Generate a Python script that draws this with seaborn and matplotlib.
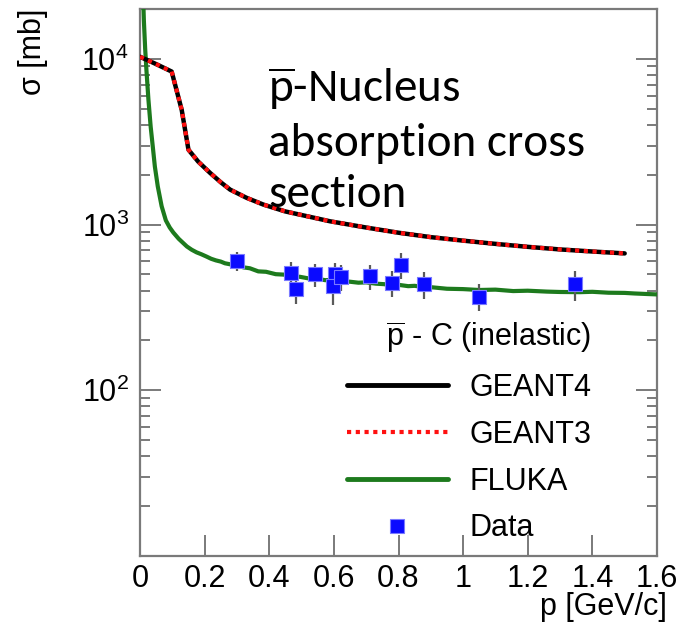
import numpy as np
import pandas as pd
import matplotlib
matplotlib.use("Agg")
import matplotlib.pyplot as plt
from matplotlib.lines import Line2D
from matplotlib.ticker import LogLocator, FixedLocator, FuncFormatter, NullFormatter
import seaborn as sns

# GEANT4 / GEANT3 antiproton-carbon inelastic cross section (mb) vs momentum (GeV/c)
geant_p = [0.0, 0.05, 0.098, 0.112, 0.129, 0.15, 0.18, 0.217, 0.25, 0.279, 0.33,
           0.382, 0.45, 0.52, 0.588, 0.7, 0.8, 0.9, 1.0, 1.1, 1.2, 1.3, 1.4, 1.5]
geant_sigma = [10300, 9300, 8385, 6600, 4930, 2830, 2400, 2050, 1800, 1625, 1450,
               1320, 1200, 1120, 1047, 960, 893, 840, 800, 765, 734, 708, 688, 670]

# FLUKA
fluka_p = [0.008, 0.012, 0.016, 0.02, 0.026, 0.033, 0.04, 0.046, 0.055, 0.067, 0.08,
           0.092, 0.103, 0.12, 0.145, 0.16, 0.175, 0.19, 0.206, 0.22, 0.235, 0.25,
           0.263, 0.275, 0.29, 0.305, 0.32, 0.34, 0.366, 0.39, 0.42, 0.445, 0.47,
           0.495, 0.52, 0.545, 0.573, 0.6, 0.62, 0.65, 0.676, 0.7, 0.73, 0.755,
           0.779, 0.8, 0.83, 0.85, 0.872, 0.9, 0.95, 1.0, 1.05, 1.1, 1.155, 1.2,
           1.26, 1.3, 1.362, 1.4, 1.45, 1.5, 1.53, 1.57, 1.6]
fluka_sigma = [30000, 17000, 11500, 8500, 5700, 3900, 2900, 2240, 1700, 1290, 1060,
               960, 896, 820, 738, 705, 680, 662, 641, 622, 608, 598, 584, 578, 570,
               566, 552, 545, 522, 519, 502, 499, 487, 484, 474, 472, 462, 463, 455,
               452, 446, 448, 440, 437, 431, 433, 425, 427, 421, 419, 410, 408, 403,
               405, 397, 399, 394, 392, 391, 393, 388, 387, 384, 381, 379]

# Measured points
data_p = [0.299, 0.466, 0.484, 0.542, 0.604, 0.596, 0.622, 0.711, 0.779, 0.808,
          0.880, 1.050, 1.345]
data_sigma = [601, 512, 410, 500, 505, 425, 484, 489, 446, 569, 436, 367, 436]
data_err = [79, 83, 80, 81, 84, 99, 84, 85, 80, 102, 82, 68, 91]

x_ticks = [0, 0.2, 0.4, 0.6, 0.8, 1.0, 1.2, 1.4, 1.6]
y_ticks = [100, 1000, 10000]

sns.set_theme(style="white")
plt.rcParams["font.family"] = ["Liberation Sans", "DejaVu Sans"]
plt.rcParams["mathtext.fontset"] = "custom"
plt.rcParams["mathtext.rm"] = "Carlito"
plt.rcParams["mathtext.sf"] = "Liberation Sans"
plt.rcParams["mathtext.it"] = "Carlito:italic"
for key in ("text.color", "axes.labelcolor", "xtick.labelcolor", "ytick.labelcolor"):
    plt.rcParams[key] = "black"

W, H, DPI = 683, 635, 100
fig = plt.figure(figsize=(W / DPI, H / DPI), dpi=DPI)
L, R, T, B = 140, 657, 9, 556
ax = fig.add_axes([L / W, 1 - B / H, (R - L) / W, (B - T) / H])

frame = "#7a7a7a"
green = "#1d7a1d"

df_g = pd.DataFrame({"p": geant_p, "sigma": geant_sigma})
df_f = pd.DataFrame({"p": fluka_p, "sigma": fluka_sigma})
df_d = pd.DataFrame({"p": data_p, "sigma": data_sigma, "err": data_err})

sns.lineplot(data=df_f, x="p", y="sigma", ax=ax, color=green, lw=3,
             sort=False, estimator=None, zorder=3)
sns.lineplot(data=df_g, x="p", y="sigma", ax=ax, color="black", lw=3.2,
             sort=False, estimator=None, zorder=4)
sns.lineplot(data=df_g, x="p", y="sigma", ax=ax, color="#ff1010", lw=3,
             sort=False, estimator=None, zorder=5, linestyle=(0, (1, 1.1)))
ax.errorbar(df_d["p"], df_d["sigma"], yerr=df_d["err"], fmt="none",
            ecolor="#5a5a5a", elinewidth=1.6, capsize=0, zorder=6)
sns.scatterplot(data=df_d, x="p", y="sigma", ax=ax, marker="s", s=95,
                color="#0a0aff", edgecolor="#7a7aff", linewidth=0.8, zorder=7)

ax.set_yscale("log")
ax.set_xlim(0, 1.6)
ax.set_ylim(10, 20000)

ax.xaxis.set_major_locator(FixedLocator(x_ticks))
ax.xaxis.set_major_formatter(FuncFormatter(lambda v, _: f"{v:g}"))
ax.yaxis.set_major_locator(FixedLocator(y_ticks))
ax.yaxis.set_major_formatter(
    FuncFormatter(lambda v, _: r"$\mathsf{10^{%d}}$" % round(np.log10(v))))
ax.yaxis.set_minor_locator(LogLocator(base=10, subs=np.arange(2, 10)))
ax.yaxis.set_minor_formatter(NullFormatter())

for s in ax.spines.values():
    s.set_color(frame)
    s.set_linewidth(1.6)

ax.tick_params(axis="x", which="major", direction="in", length=15, width=1.4,
               color=frame, labelsize=22, pad=6, top=False, bottom=True)
ax.tick_params(axis="y", which="major", direction="in", length=15, width=1.4,
               color=frame, labelsize=22, pad=8, left=True, right=True)
ax.tick_params(axis="y", which="minor", direction="in", length=7, width=1.4,
               color=frame, left=True, right=True)

ax.set_xlabel("p [GeV/c]", fontsize=22, loc="right")
ax.xaxis.set_label_coords((667 - L) / (R - L), (B - 592) / (B - T))
ax.set_ylabel("σ [mb]", fontsize=22, loc="top")
ax.yaxis.set_label_coords((48 - L) / (R - L), 1.0)

handles = [
    Line2D([], [], color="black", lw=3.5),
    Line2D([], [], color="#ff1010", lw=3, linestyle=(0, (1, 1.1))),
    Line2D([], [], color=green, lw=3.5),
    Line2D([], [], color="#0a0aff", marker="s", markersize=10, linestyle="none",
           markeredgecolor="#7a7aff", markeredgewidth=0.8),
]
leg = ax.legend(handles, ["GEANT4", "GEANT3", "FLUKA", "Data"],
                title=r"$\mathsf{\overline{p}}$ - C (inelastic)",
                title_fontsize=22, fontsize=22,
                frameon=False, loc="upper left",
                bbox_to_anchor=((347 - L) / (R - L), (B - 320) / (B - T)),
                borderaxespad=0, borderpad=0, handlelength=3.3,
                handletextpad=0.7, labelspacing=0.55, alignment="right")

# Three-line annotation; the baseline anchor applies to the last line
fig.text(268 / W, 1 - 207 / H,
         "$\\overline{\\mathrm{p}}$-Nucleus\nabsorption cross\nsection",
         family="Carlito", fontsize=34, va="baseline",
         ha="left", linespacing=1.3, transform=fig.transFigure)

fig.savefig("out.png", dpi=DPI)
